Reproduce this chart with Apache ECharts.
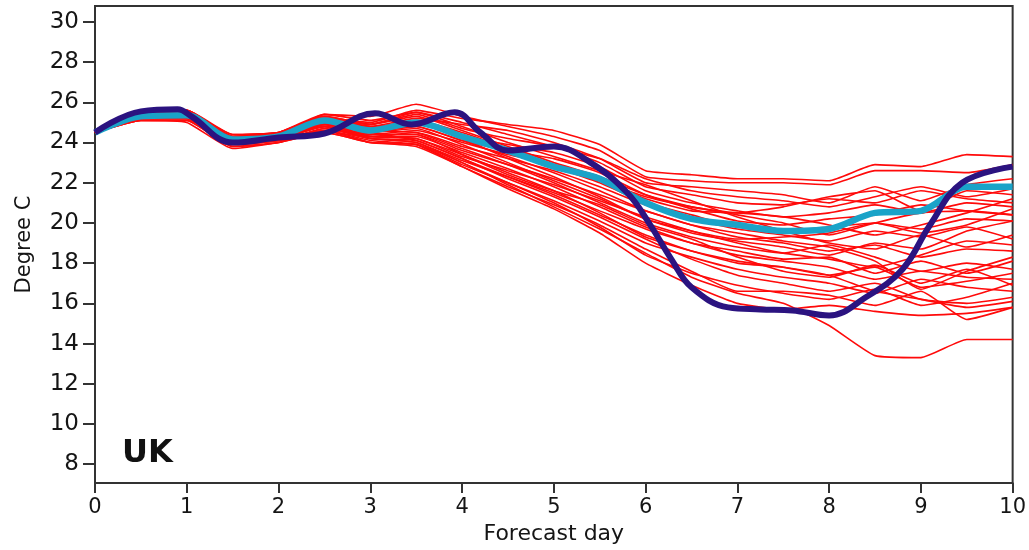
<!DOCTYPE html>
<html>
<head>
<meta charset="utf-8">
<script src="https://cdn.jsdelivr.net/npm/echarts@6/dist/echarts.min.js"></script>
<style>
html,body{margin:0;padding:0;background:#fff;}
#chart{width:1029px;height:550px;}
</style>
</head>
<body>
<div id="chart"></div>
<script>
// Forecast days for the ensemble members and ensemble mean (12-hourly)
var days = [0,0.5,1,1.5,2,2.5,3,3.5,4,4.5,5,5.5,6,6.5,7,7.5,8,8.5,9,9.5,10];

// Axis tick labels
var xTicks = [0,1,2,3,4,5,6,7,8,9,10];
var yTicks = [8,10,12,14,16,18,20,22,24,26,28,30];

// Ensemble members (red)
var m1  = [24.5,25.4,25.5,24.3,24.4,25.2,25.0,25.6,25.2,24.9,24.6,23.9,22.6,22.4,22.2,22.2,22.1,22.9,22.8,23.4,23.3];
var m2  = [24.5,25.3,25.6,24.2,24.3,25.4,25.3,25.9,25.3,24.8,24.3,23.6,22.3,22.1,22.0,22.0,21.9,22.6,22.6,22.5,22.9];
var m3  = [24.5,25.2,25.4,24.1,24.2,25.1,24.8,25.2,24.9,24.6,24.0,23.2,22.0,21.8,21.6,21.4,21.0,21.8,21.1,21.9,22.2];
var m4  = [24.5,25.5,25.6,24.4,24.5,25.3,24.9,25.4,24.7,24.2,23.8,23.0,21.8,21.4,21.0,20.9,21.2,21.0,21.6,21.2,21.0];
var m5  = [24.5,25.3,25.3,24.0,24.3,25.0,24.6,25.0,24.3,23.9,23.5,22.8,21.6,21.0,20.6,20.3,20.5,20.9,20.5,21.0,20.8];
var m6  = [24.5,25.2,25.2,23.9,24.1,24.9,24.5,24.8,24.1,23.6,23.2,22.5,21.4,20.7,20.1,19.9,20.2,20.4,20.9,20.6,20.4];
var m7  = [24.5,25.4,25.5,24.3,24.4,25.2,24.7,24.9,24.4,23.6,22.8,22.0,21.0,20.4,19.8,19.6,19.8,20.0,19.7,20.2,20.1];
var m8  = [24.5,25.3,25.4,24.2,24.2,24.9,24.4,24.6,24.0,23.4,22.9,22.2,21.2,20.6,20.5,20.3,19.9,19.4,19.9,20.5,21.2];
var m9  = [24.5,25.1,25.1,23.8,24.0,24.7,24.3,24.5,23.8,23.2,22.6,21.8,20.9,20.2,19.7,19.4,19.1,19.6,19.3,19.8,19.2];
var m10 = [24.5,25.5,25.6,24.3,24.5,25.4,25.1,25.5,24.8,24.0,23.3,22.6,21.9,21.1,20.3,19.6,19.0,18.7,19.4,18.8,19.4];
var m11 = [24.5,25.2,25.3,24.0,24.2,24.8,24.4,24.4,23.6,22.9,22.2,21.4,20.6,19.9,19.3,19.0,18.6,18.9,18.3,18.7,18.6];
var m12 = [24.5,25.3,25.4,24.1,24.3,24.9,24.3,24.2,23.3,22.6,21.9,21.1,20.3,19.6,19.0,18.5,18.2,17.8,18.4,19.1,18.9];
var m13 = [24.5,25.4,25.5,24.2,24.4,25.1,24.6,24.5,23.7,22.9,22.0,21.0,20.0,19.3,18.8,18.5,18.9,18.3,17.6,18.0,17.7];
var m14 = [24.5,25.2,25.2,23.9,24.1,24.7,24.2,24.0,23.1,22.3,21.5,20.6,19.7,19.0,18.4,18.1,17.8,17.2,17.6,17.3,17.2];
var m15 = [24.5,25.3,25.3,24.0,24.2,24.8,24.3,24.2,23.4,22.5,21.6,20.5,19.3,18.6,18.0,17.8,17.4,17.8,16.8,17.1,17.5];
var m16 = [24.5,25.1,25.0,23.7,24.0,24.5,24.0,23.9,22.9,22.0,21.1,20.1,19.0,18.3,17.7,17.3,17.0,16.5,17.2,16.8,16.6];
var m17 = [24.5,25.4,25.6,24.3,24.5,25.0,24.5,24.1,23.2,22.2,21.3,20.3,19.2,18.2,17.4,17.0,16.6,17.0,16.2,16.0,16.3];
var m18 = [24.5,25.2,25.3,24.0,24.2,24.6,24.1,23.9,22.8,21.8,20.9,19.9,18.7,17.6,16.6,16.6,16.4,15.9,16.6,15.2,15.8];
var m19 = [24.5,25.3,25.4,24.1,24.3,24.8,24.2,24.0,23.0,22.0,21.0,19.8,18.4,17.5,16.9,16.5,16.2,16.7,15.9,16.3,17.0];
var m20 = [24.5,25.2,25.2,23.9,24.1,24.6,24.0,23.8,22.8,21.7,20.7,19.5,18.0,16.9,16.0,15.7,15.9,15.6,15.4,15.5,15.8];
var m21 = [24.5,25.1,25.1,23.8,24.0,24.5,24.0,23.9,23.0,21.9,20.8,19.7,18.5,17.3,16.5,16.0,14.9,13.4,13.3,14.2,14.2];
var m22 = [24.5,25.3,25.5,24.2,24.4,25.2,24.8,25.0,24.2,23.2,22.3,21.3,20.2,19.5,19.1,18.8,18.4,19.0,18.7,19.6,20.1];
var m23 = [24.5,25.4,25.4,24.1,24.3,25.0,24.5,24.7,23.9,23.0,22.1,21.2,20.2,19.6,19.2,19.3,19.5,20.0,19.5,19.9,20.7];
var m24 = [24.5,25.2,25.3,24.0,24.2,24.8,24.3,24.3,23.5,22.7,21.8,20.8,19.8,19.0,18.6,18.2,18.3,17.5,18.1,17.5,18.1];
var m25 = [24.5,25.3,25.3,24.1,24.2,24.8,24.4,24.4,23.4,22.4,21.6,20.9,19.9,19.2,18.3,17.6,17.3,17.9,17.0,17.7,16.9];
var m26 = [24.5,25.5,25.5,24.4,24.5,25.3,24.9,25.3,24.6,23.8,23.0,22.3,21.4,20.8,20.5,20.8,21.3,21.6,20.6,21.6,21.4];
var m27 = [24.5,25.3,25.4,24.2,24.3,24.9,24.6,24.8,24.1,23.3,22.5,21.6,20.6,19.9,19.5,19.1,18.8,18.1,16.7,17.6,18.3];
var m28 = [24.5,25.2,25.2,24.0,24.1,24.6,24.2,24.1,23.2,22.3,21.4,20.4,19.4,18.6,18.1,17.8,17.4,16.6,16.2,15.8,16.1];
var m29 = [24.5,25.4,25.4,24.1,24.3,25.0,24.7,25.1,24.5,23.7,22.8,22.1,21.3,20.8,20.4,20.0,19.4,20.0,20.5,20.6,20.4];
var m30 = [24.5,25.3,25.4,24.2,24.3,25.1,24.9,25.5,25.0,24.4,23.8,23.2,22.2,21.6,21.3,21.1,20.8,21.3,21.8,21.3,21.7];
var members = [m1,m2,m3,m4,m5,m6,m7,m8,m9,m10,m11,m12,m13,m14,m15,m16,m17,m18,m19,m20,m21,m22,m23,m24,m25,m26,m27,m28,m29,m30];

// Ensemble mean (cyan)
var ensembleMean = [24.5,25.3,25.35,24.15,24.3,25.1,24.6,25.0,24.3,23.6,22.8,22.2,21.0,20.2,19.9,19.6,19.7,20.5,20.6,21.8,21.8];

// Deterministic forecast (dark blue)
var detDays = [0,0.5,0.9,1.05,1.5,2,2.5,3.05,3.45,3.92,4.2,4.5,5,5.4,5.8,6.05,6.28,6.5,6.9,7.25,7.6,8,8.4,8.8,9.1,9.45,10];
var detVals = [24.5,25.55,25.65,25.3,24.0,24.25,24.45,25.45,24.9,25.5,24.5,23.6,23.8,23.0,21.5,19.9,18.2,16.8,15.8,15.7,15.65,15.4,16.3,17.7,19.9,22.0,22.8];

function pairs(xs, ys){ return xs.map(function(x,i){ return [x, ys[i]]; }); }

var textColor = '#151515';
var font = 'DejaVu Sans';

var series = [];
members.forEach(function(m, i){
  series.push({
    name: 'member' + (i+1), type: 'line', data: pairs(days, m),
    showSymbol: false, smooth: 0.15, z: 2,
    lineStyle: {color: '#ff0a0a', width: 1.6}
  });
});
series.push({
  name: 'mean', type: 'line', data: pairs(days, ensembleMean),
  showSymbol: false, smooth: 0.3, z: 3,
  lineStyle: {color: '#1aa3c8', width: 6.5}
});
series.push({
  name: 'deterministic', type: 'line', data: pairs(detDays, detVals),
  showSymbol: false, smooth: 0.4, z: 4,
  lineStyle: {color: '#2b1380', width: 6}
});

var chart = echarts.init(document.getElementById('chart'), null, {renderer: 'canvas'});
chart.setOption({
  animation: false,
  backgroundColor: '#fff',
  grid: {left: 95, right: 16, top: 6, bottom: 64, show: true, borderColor: '#333', borderWidth: 2, backgroundColor: 'transparent'},
  xAxis: {
    type: 'value', min: 0, max: 10, interval: 1,
    name: 'Forecast day', nameLocation: 'middle', nameGap: 38,
    nameTextStyle: {fontFamily: font, fontSize: 22, color: textColor},
    axisLine: {show: true, lineStyle: {color: '#333', width: 2}},
    axisTick: {show: true, length: 10, lineStyle: {color: '#333', width: 2}, customValues: xTicks},
    axisLabel: {fontFamily: font, fontSize: 21, color: textColor, margin: 14, customValues: xTicks, showMinLabel: true, showMaxLabel: true},
    splitLine: {show: false}
  },
  yAxis: {
    type: 'value', min: 7.06, max: 30.79,
    name: 'Degree C', nameLocation: 'middle', nameGap: 60, nameRotate: 90,
    nameTextStyle: {fontFamily: font, fontSize: 21, color: textColor},
    axisLine: {show: true, lineStyle: {color: '#333', width: 2}},
    axisTick: {show: true, length: 12, lineStyle: {color: '#333', width: 2}, customValues: yTicks},
    axisLabel: {fontFamily: font, fontSize: 23, color: textColor, margin: 16, customValues: yTicks},
    splitLine: {show: false}
  },
  graphic: [{
    type: 'text', left: 122, top: 438, z: 10,
    style: {text: 'UK', font: 'bold 32px "DejaVu Sans"', fill: '#111'}
  }],
  series: series
});
</script>
</body>
</html>
